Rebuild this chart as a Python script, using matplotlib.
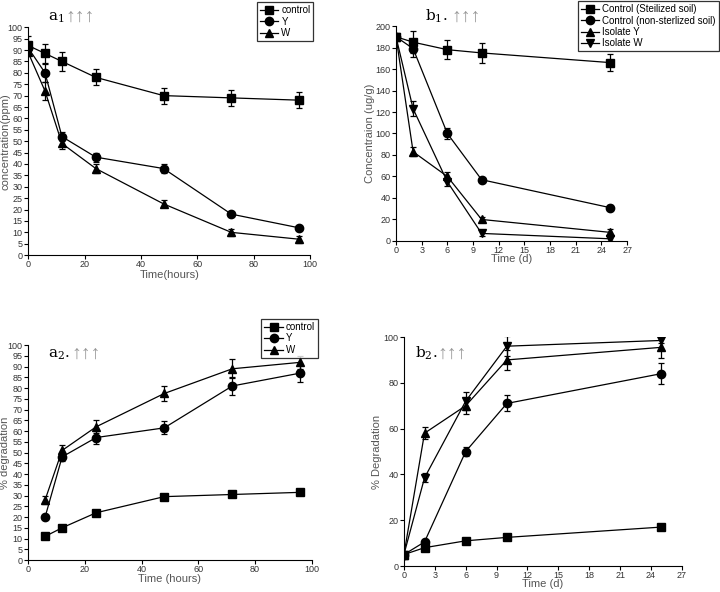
"""Degradation curves: concentration and % degradation over time."""
import matplotlib

matplotlib.use("Agg")
import matplotlib.pyplot as plt
import numpy as np

plt.rcParams["font.family"] = ["Liberation Sans", "DejaVu Sans"]
plt.rcParams["mathtext.fontset"] = "dejavuserif"

# ---- a1: concentration (ppm) vs time (hours)
hours_a1 = [0, 6, 12, 24, 48, 72, 96]
a1_control = [92, 88.5, 85, 78, 70, 69, 68]
a1_control_err = [4, 4, 4, 3.5, 3.5, 3.5, 3.5]
a1_y = [91, 80, 52, 43, 38, 18, 12]
a1_y_err = [0, 4, 2, 2, 2, 0.5, 0.5]
a1_w = [89, 72, 49, 38, 22.5, 10, 7]
a1_w_err = [0, 4, 2.5, 2, 1.5, 1.5, 1.5]
a1_labels = ["control", "Y", "W"]

# ---- a2: % degradation vs time (hours)
hours_a2 = [6, 12, 24, 48, 72, 96]
a2_control = [11, 15, 22, 29.5, 30.5, 31.5]
a2_control_err = [0.5, 0.5, 0.5, 0.5, 0.5, 1]
a2_y = [20, 48, 57, 61.5, 81, 87]
a2_y_err = [0.5, 2, 3, 3, 4, 4]
a2_w = [28, 51, 62, 77.5, 89, 92]
a2_w_err = [2, 2.5, 3, 3.5, 4.5, 3]

# ---- b1: concentration (ug/g) vs time (d)
days = [0, 2, 6, 10, 25]
b1_sterile = [190, 185, 178, 175, 166]
b1_sterile_err = [3, 10, 9, 9, 8]
b1_nonsterile = [190, 179, 100, 57, 31]
b1_nonsterile_err = [0, 8, 5, 2, 2]
b1_iso_y = [190, 83, 60, 20, 8]
b1_iso_y_err = [0, 4, 4, 2, 3]
b1_iso_w = [190, 123, 55, 7, 2]
b1_iso_w_err = [0, 7, 4, 2, 2]
b_labels = ["Control (Steilized soil)", "Control (non-sterlized soil)",
            "Isolate Y", "Isolate W"]

# ---- b2: % degradation vs time (d)
b2_sterile = [5, 8, 11, 12.5, 17]
b2_sterile_err = [0, 0.5, 0.5, 0.5, 0.5]
b2_nonsterile = [5, 10.5, 50, 71, 84]
b2_nonsterile_err = [0, 1, 2, 3.5, 4.5]
b2_iso_y = [5, 58, 70, 90, 95.5]
b2_iso_y_err = [0, 2.5, 3.5, 4.5, 4.5]
b2_iso_w = [5, 38.5, 72, 96, 98.5]
b2_iso_w_err = [0, 2, 4, 4.5, 1]

label_grey = "#555555"
arrow_grey = "#999999"


def series(ax, x, y, err, marker):
    c = ax.errorbar(x, y, yerr=err, marker=marker, color="black", markersize=6,
                    linewidth=0.9, elinewidth=0.9, capsize=2.5, capthick=0.9)
    return c[0]


def style_axes(ax, xlim, xticks, ylim, yticks, xlabel, ylabel, ylab_x, xlab_y):
    ax.set_xlim(*xlim)
    ax.set_ylim(*ylim)
    ax.set_xticks(xticks)
    ax.set_yticks(yticks)
    ax.spines["top"].set_visible(False)
    ax.spines["right"].set_visible(False)
    ax.tick_params(direction="out", length=3, width=0.8, labelsize=6.5,
                   labelcolor="#333333", pad=1)
    ax.tick_params(axis="x", pad=0.5)
    ax.set_xlabel(xlabel, fontsize=8, color=label_grey)
    ax.set_ylabel(ylabel, fontsize=8, color=label_grey)
    ax.yaxis.set_label_coords(ylab_x, 0.5)
    ax.xaxis.set_label_coords(0.5, xlab_y)
    ax.patch.set_alpha(0)


def add_legend(ax, handles, labels, anchor, loc):
    leg = ax.legend(handles, labels, loc=loc, bbox_to_anchor=anchor,
                    bbox_transform=fig.transFigure, fontsize=7, frameon=True,
                    fancybox=False, edgecolor="black", borderpad=0.3,
                    labelspacing=0.15, handlelength=1.9, handletextpad=0.3,
                    borderaxespad=0)
    leg.get_frame().set_linewidth(0.9)


def panel_title(x, y, letter, sub, dot, arrows_x):
    fig.text(x / 720, 1 - y / 592, rf"$\mathrm{{{letter}}}_{{{sub}}}${dot}",
             fontsize=11, color="black", ha="left", va="baseline",
             family="DejaVu Serif")
    fig.text(arrows_x / 720, 1 - (y + 1) / 592, "↑↑↑", fontsize=14, color=arrow_grey,
             ha="left", va="baseline", family=["Liberation Serif", "DejaVu Serif"])


fig = plt.figure(figsize=(7.2, 5.92), dpi=100)

# a1
ax = fig.add_axes([0.039, 0.569, 0.392, 0.385])
h = [series(ax, hours_a1, a1_control, a1_control_err, "s"),
     series(ax, hours_a1, a1_y, a1_y_err, "o"),
     series(ax, hours_a1, a1_w, a1_w_err, "^")]
style_axes(ax, (0, 100), np.arange(0, 101, 20), (0, 100), np.arange(0, 101, 5),
           "Time(hours)", "concentration(ppm)", -0.064, -0.065)
add_legend(ax, h, a1_labels, (0.357, 0.996), "upper left")
panel_title(48, 21, "a", "1", "", 65)

# b1
ax = fig.add_axes([0.55, 0.593, 0.321, 0.363])
h = [series(ax, days, b1_sterile, b1_sterile_err, "s"),
     series(ax, days, b1_nonsterile, b1_nonsterile_err, "o"),
     series(ax, days, b1_iso_y, b1_iso_y_err, "^"),
     series(ax, days, b1_iso_w, b1_iso_w_err, "v")]
style_axes(ax, (0, 27), np.arange(0, 28, 3), (0, 200), np.arange(0, 201, 20),
           "Time (d)", "Concentraion (ug/g)", -0.09, -0.062)
add_legend(ax, h, b_labels, (0.998, 0.998), "upper right")
panel_title(425, 21, "b", "1", ".", 451)

# a2
ax = fig.add_axes([0.039, 0.054, 0.394, 0.363])
h = [series(ax, hours_a2, a2_control, a2_control_err, "s"),
     series(ax, hours_a2, a2_y, a2_y_err, "o"),
     series(ax, hours_a2, a2_w, a2_w_err, "^")]
style_axes(ax, (0, 100), np.arange(0, 101, 20), (0, 100), np.arange(0, 101, 5),
           "Time (hours)", "% degradation", -0.064, -0.066)
add_legend(ax, h, a1_labels, (0.363, 0.461), "upper left")
panel_title(48, 358, "a", "2", ".", 71)

# b2
ax = fig.add_axes([0.561, 0.0439, 0.386, 0.3868])
series(ax, days, b2_sterile, b2_sterile_err, "s")
series(ax, days, b2_nonsterile, b2_nonsterile_err, "o")
series(ax, days, b2_iso_y, b2_iso_y_err, "^")
series(ax, days, b2_iso_w, b2_iso_w_err, "v")
style_axes(ax, (0, 27), np.arange(0, 28, 3), (0, 100), np.arange(0, 101, 20),
           "Time (d)", "% Degradation", -0.078, -0.058)
panel_title(415, 358, "b", "2", ".", 437)

fig.savefig("out.png", dpi=100)
